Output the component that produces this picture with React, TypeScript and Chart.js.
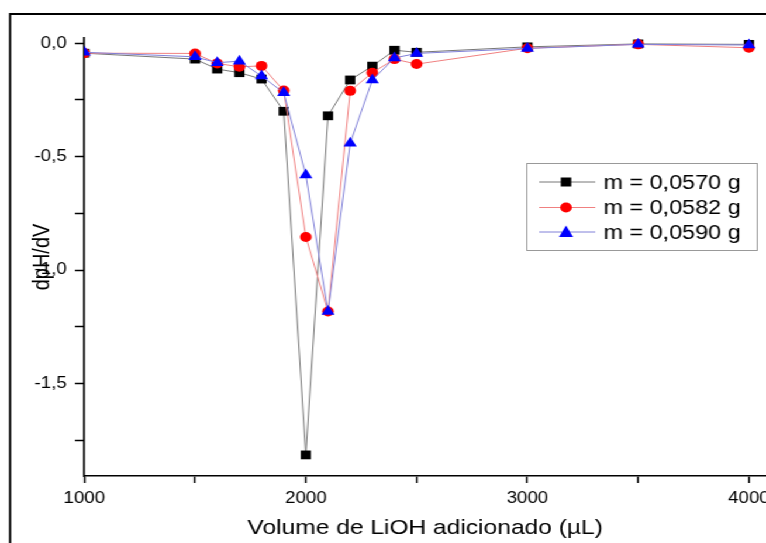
import React, { useEffect, useRef } from "react";
import { Chart, registerables } from "chart.js";

Chart.register(...registerables);

const xValues = [1000, 1500, 1600, 1700, 1800, 1900, 2000, 2100, 2200, 2300, 2400, 2500, 3000, 3500, 4000];
const m0570 = [-0.044, -0.07, -0.114, -0.13, -0.158, -0.3, -1.815, -0.32, -0.162, -0.101, -0.031, -0.04, -0.016, -0.003, -0.005];
const m0582 = [-0.044, -0.045, -0.089, -0.104, -0.1, -0.209, -0.854, -1.183, -0.21, -0.13, -0.07, -0.092, -0.022, -0.005, -0.02];
const m0590 = [-0.04, -0.06, -0.086, -0.079, -0.145, -0.218, -0.581, -1.183, -0.441, -0.162, -0.065, -0.045, -0.023, -0.005, -0.008];

const seriesNames = ["m = 0,0570 g", "m = 0,0582 g", "m = 0,0590 g"];

const xTicks = [1000, 1500, 2000, 2500, 3000, 3500, 4000];
const xTickLabels = ["1000", "", "2000", "", "3000", "", "4000"];
const yTicks = [-1.75, -1.5, -1.25, -1, -0.75, -0.5, -0.25, 0];
const yTickLabels = ["", "-1,5", "", "-1,0", "", "-0,5", "", "0,0"];

const FONT = "'Liberation Sans', Arial, sans-serif";
const W = 655;
const H = 543;
const K = 766 / W;

const framePlugin = {
  id: "frame",
  afterDraw(chart: any) {
    const ctx = chart.ctx;
    ctx.save();
    ctx.strokeStyle = "#000";
    ctx.lineWidth = 1.8;
    ctx.beginPath();
    ctx.moveTo(8.6, H);
    ctx.lineTo(8.6, 14);
    ctx.lineTo(W, 14);
    ctx.stroke();

    const bx = 450, by = 163, bw = 197, bh = 87;
    ctx.fillStyle = "#fff";
    ctx.fillRect(bx, by, bw, bh);
    ctx.strokeStyle = "#999";
    ctx.lineWidth = 1;
    ctx.strokeRect(bx + 0.5, by + 0.5, bw, bh);
    const rows = [182, 207.5, 232];
    const sets = chart.data.datasets;
    [0, 1, 2].forEach((i, r) => {
      const ds = sets[i];
      const y = rows[r];
      ctx.strokeStyle = ds.borderColor;
      ctx.lineWidth = 1;
      ctx.beginPath();
      ctx.moveTo(461, y);
      ctx.lineTo(509, y);
      ctx.stroke();
      ctx.fillStyle = ds.pointBackgroundColor;
      const cx = 484;
      if (ds.pointStyle === "rect") {
        ctx.fillRect(cx - 4.5, y - 4.5, 9, 9);
      } else if (ds.pointStyle === "circle") {
        ctx.beginPath();
        ctx.arc(cx, y, 5, 0, Math.PI * 2);
        ctx.fill();
      } else {
        ctx.beginPath();
        ctx.moveTo(cx, y - 6.5);
        ctx.lineTo(cx + 6, y + 5);
        ctx.lineTo(cx - 6, y + 5);
        ctx.closePath();
        ctx.fill();
      }
      ctx.fillStyle = "#000";
      ctx.font = `20px ${FONT}`;
      ctx.textAlign = "left";
      ctx.textBaseline = "middle";
      ctx.fillText(ds.label, 516, y + 1);
    });
    ctx.restore();
  },
};

export default function App() {
  const ref = useRef<HTMLCanvasElement>(null);
  useEffect(() => {
    document.body.style.margin = "0";
    document.body.style.background = "#fff";
    const mk = (v: number[]) => xValues.map((x, i) => ({ x, y: v[i] }));
    const chart = new Chart(ref.current as HTMLCanvasElement, {
      type: "line",
      data: {
        datasets: [
          {
            label: seriesNames[0],
            data: mk(m0570),
            borderColor: "#777",
            pointBackgroundColor: "#000",
            pointBorderColor: "#000",
            pointStyle: "rect",
            pointRadius: 6.2,
            borderWidth: 1,
            pointBorderWidth: 0,
            order: 2,
          },
          {
            label: seriesNames[1],
            data: mk(m0582),
            borderColor: "#f08080",
            pointBackgroundColor: "#f00",
            pointBorderColor: "#f00",
            pointStyle: "circle",
            pointRadius: 5,
            borderWidth: 1,
            pointBorderWidth: 0,
            order: 1,
          },
          {
            label: seriesNames[2],
            data: mk(m0590),
            borderColor: "#8080d8",
            pointBackgroundColor: "#00f",
            pointBorderColor: "#00f",
            pointStyle: "triangle",
            pointRadius: 6.5,
            borderWidth: 1,
            pointBorderWidth: 0,
            order: 0,
          },
        ],
      } as any,
      options: {
        responsive: false,
        animation: false,
        devicePixelRatio: 1,
        layout: { autoPadding: false, padding: { top: 38, left: 0, right: 0, bottom: 0 } },
        plugins: { legend: { display: false }, tooltip: { enabled: false } },
        scales: {
          x: {
            type: "linear",
            position: "bottom",
            min: 1000,
            max: 4077,
            afterBuildTicks: (axis: any) => {
              axis.ticks = xTicks.map((v) => ({ value: v }));
            },
            afterFit: (axis: any) => {
              axis.height = 67;
              axis.paddingLeft = 0;
              axis.paddingRight = 0;
            },
            grid: {
              drawOnChartArea: false,
              drawTicks: true,
              tickLength: 7,
              tickColor: "#000",
              tickWidth: 1.5,
            },
            border: { display: true, color: "#000", width: 1.6 },
            ticks: {
              color: "#000",
              font: { family: FONT, size: 16 },
              padding: 6,
              maxRotation: 0,
              autoSkip: false,
              callback: (v: any) => {
                const i = xTicks.indexOf(Number(v));
                return i >= 0 ? xTickLabels[i] : "";
              },
            },
            title: {
              display: true,
              text: "Volume de LiOH adicionado (µL)",
              color: "#000",
              font: { family: FONT, size: 21 },
              padding: { top: 0, bottom: 2 },
            },
          },
          y: {
            type: "linear",
            min: -1.908,
            max: 0.023,
            afterBuildTicks: (axis: any) => {
              axis.ticks = yTicks.map((v) => ({ value: v }));
            },
            afterFit: (axis: any) => {
              axis.width = 72.1;
              axis.paddingTop = 0;
              axis.paddingBottom = 0;
            },
            grid: {
              drawOnChartArea: false,
              drawTicks: true,
              tickLength: 8,
              tickColor: "#000",
              tickWidth: 1.5,
            },
            border: { display: true, color: "#000", width: 1.6 },
            ticks: {
              color: "#000",
              font: { family: FONT, size: 16 },
              padding: 7,
              autoSkip: false,
              callback: (v: any) => {
                const i = yTicks.findIndex((t) => Math.abs(t - Number(v)) < 1e-6);
                return i >= 0 ? yTickLabels[i] : "";
              },
            },
            title: {
              display: true,
              text: "dpH/dV",
              color: "#000",
              font: { family: FONT, size: 20 },
              padding: { top: 24, bottom: 0 },
            },
          },
        },
      } as any,
      plugins: [framePlugin],
    });
    return () => chart.destroy();
  }, []);
  return (
    <div
      style={{
        position: "fixed",
        left: 0,
        top: 0,
        width: W,
        height: H,
        transform: `scaleX(${K})`,
        transformOrigin: "0 0",
        background: "#fff",
      }}
    >
      <canvas ref={ref} width={W} height={H} style={{ width: W, height: H }} />
    </div>
  );
}
